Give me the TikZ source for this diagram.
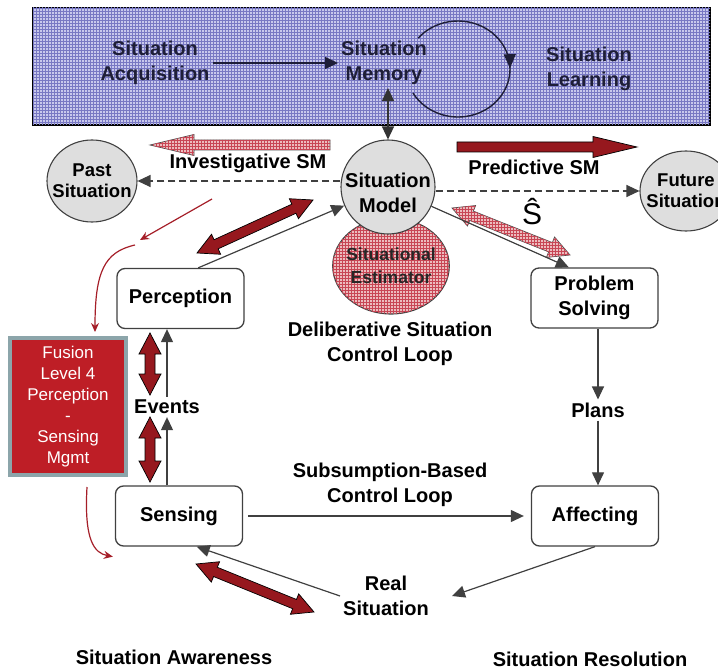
\documentclass[tikz,border=0pt]{standalone}
\usepackage{fontspec}
\setmainfont{Liberation Sans}
\usetikzlibrary{arrows.meta,calc,patterns,decorations.markings,shapes.geometric}

\definecolor{boxblue}{RGB}{200,200,236}
\definecolor{gridblue}{RGB}{120,120,195}
\definecolor{navy}{RGB}{30,30,55}
\definecolor{dkred}{RGB}{150,24,30}
\definecolor{pinkbase}{RGB}{236,188,190}
\definecolor{gridred}{RGB}{200,70,85}
\definecolor{ballgray}{RGB}{222,222,222}
\definecolor{fusred}{RGB}{190,30,38}
\definecolor{fusedge}{RGB}{140,165,170}
\definecolor{thinred}{RGB}{165,30,40}

\newcommand{\lblfont}{\fontsize{20}{25}\selectfont\bfseries}

% block arrow with one head, from #1 to #2
\newcommand{\onearrow}[3]{%
  \coordinate (hb) at ($(#2)!44pt!(#1)$);
  \draw[#3] ($(#1)!5pt!90:(#2)$) -- ($(hb)!5pt!-90:(#1)$) -- ($(hb)!10.5pt!-90:(#1)$)
    -- (#2) -- ($(hb)!10.5pt!90:(#1)$) -- ($(hb)!5pt!90:(#1)$) -- ($(#1)!5pt!-90:(#2)$) -- cycle;}
% block arrow with two heads
\newcommand{\twoarrow}[3]{%
  \coordinate (ha) at ($(#1)!21pt!(#2)$);
  \coordinate (hb) at ($(#2)!21pt!(#1)$);
  \draw[#3] (#1) -- ($(ha)!11pt!90:(#2)$) -- ($(ha)!5pt!90:(#2)$) -- ($(hb)!5pt!-90:(#1)$)
    -- ($(hb)!11pt!-90:(#1)$) -- (#2) -- ($(hb)!11pt!90:(#1)$) -- ($(hb)!5pt!90:(#1)$)
    -- ($(ha)!5pt!-90:(#2)$) -- ($(ha)!11pt!-90:(#2)$) -- cycle;}

\begin{document}
\begin{tikzpicture}[x=1pt, y=-1pt, >={Triangle[length=13pt,width=12pt]},
  procbox/.style={draw=black!75, line width=1.3pt, rounded corners=8pt, fill=white,
    minimum width=127pt, minimum height=60pt, font=\lblfont, align=center, inner sep=2pt},
  txt/.style={font=\lblfont, align=center, inner sep=3pt},
  ball/.style={draw=black!75, line width=1.1pt, fill=ballgray, align=center},
  conn/.style={draw=black!75, line width=1.2pt, ->},
  redpath/.style={draw=thinred, line width=1.2pt, -{Stealth[length=9pt,width=8pt]}},
  solidred/.style={draw=black, line width=0.7pt, fill=dkred},
  hatchred/.style={draw=black!70, line width=0.7pt, fill=pinkbase,
    postaction={pattern=grid, pattern color=gridred}}]
\useasboundingbox (0,0) rectangle (718,671);

% memory band
\draw[line width=1.5pt, fill=boxblue, postaction={pattern=grid, pattern color=gridblue}]
  (33,8) rectangle (710,125);
\node[txt, text=navy] (acq) at (155,63) {Situation\\Acquisition};
\node[txt, text=navy] (mem) at (384,63) {Situation\\Memory};
\node[txt, text=navy] (learn) at (589,69) {Situation\\Learning};
\draw[navy, line width=1.5pt, ->] (acq) -- (mem);
\draw[navy, line width=1.4pt, postaction={decorate},
  decoration={markings, mark=at position 0.48 with {\arrow{Triangle[length=14pt,width=12pt]}}}]
  (458,69) ++(-140:52 and 48) arc[start angle=-140, end angle=150, x radius=52, y radius=48];

% block arrows
\coordinate (invA) at (330,145); \coordinate (invB) at (150,145);
\coordinate (predA) at (457,147); \coordinate (predB) at (637,147);
\coordinate (pmA) at (197,253); \coordinate (pmB) at (313,200);
\coordinate (msA) at (452,208); \coordinate (msB) at (570,255);
\coordinate (peA) at (150,333); \coordinate (peB) at (150,395);
\coordinate (esA) at (150,417); \coordinate (esB) at (150,482);
\coordinate (srA) at (196,564); \coordinate (srB) at (314,612);
\onearrow{invA}{invB}{hatchred}
\onearrow{predA}{predB}{solidred}
\twoarrow{pmA}{pmB}{solidred}
\twoarrow{msA}{msB}{hatchred}
\twoarrow{peA}{peB}{solidred}
\twoarrow{esA}{esB}{solidred}
\twoarrow{srA}{srB}{solidred}

% situation nodes
\node[ellipse, hatchred, draw=black!75, line width=1.1pt, minimum width=116pt, minimum height=96pt,
  inner xsep=-3.5pt, inner ysep=0pt, align=center, text=black!85,
  font=\fontsize{17.5}{23}\selectfont\bfseries] (est) at (391,266) {Situational\\Estimator};
\node[ball, circle, minimum size=94pt, inner xsep=-3pt, inner ysep=0pt, font=\lblfont]
  (model) at (388,187)
  {\raisebox{-8pt}[\height][\depth]{\begin{tabular}{@{}c@{}}Situation\\Model\end{tabular}}};
\node[ball, ellipse, minimum width=90pt, minimum height=82pt, inner xsep=-9pt, inner ysep=0pt,
  font=\fontsize{18.5}{21}\selectfont\bfseries] (past) at (92,181) {Past\\Situation};
\node[ball, ellipse, minimum width=92pt, minimum height=80pt, inner xsep=-9pt, inner ysep=0pt,
  font=\fontsize{18.5}{21}\selectfont\bfseries] (future) at (686,191) {Future\\Situation};

\node[procbox] (perc) at (180.5,298.5) {Perception};
\node[procbox] (prob) at (594.5,298) {Problem\\Solving};
\node[procbox] (sens) at (179,516) {Sensing};
\node[procbox] (aff) at (595,516) {Affecting};

\node[txt] (events) at (167,407) {Events};
\node[txt] (plans) at (598,410) {Plans};
\node[txt] (real) at (386,596) {Real\\Situation};
\node[txt] (delib) at (390,344) {Deliberative Situation\\Control Loop};
\node[txt] (subsum) at (390,485) {Subsumption-Based\\Control Loop};
\node[txt] (aware) at (174,657) {Situation Awareness};
\node[txt] (resol) at (590,659) {Situation Resolution};
\node[txt] (invlbl) at (248,163) {Investigative SM};
\node[txt] (predlbl) at (534,167) {Predictive SM};
\node[font=\fontsize{30}{30}\selectfont] (shat) at (532,212) {Ŝ};

\node[draw=fusedge, line width=4pt, fill=fusred, text=white, align=center,
  font=\fontsize{17}{21}\selectfont, minimum width=116pt, minimum height=137pt]
  (fusion) at (68,406.5) {Fusion\\Level 4\\Perception\\-\\Sensing\\Mgmt};

% connectors
\draw[<->, line width=1.4pt, draw=black!80] (model.north) -- (model.north |- mem.south);
\draw[conn, dash pattern=on 7pt off 4pt] (model.west |- past) -- (past.east);
\draw[conn, dash pattern=on 7pt off 4pt] (model.east |- future) -- (future.west);
\draw[conn] (perc.60) -- (model);
\draw[conn] (model) -- (prob.130);
\draw[conn] (prob.south -| plans.north) -- (plans.north);
\draw[conn] (plans.south) -- (plans.south |- aff.north);
\draw[conn, shorten <=5pt, shorten >=7pt] (sens.east) -- (aff.west);
\draw[conn] (aff.south) -- ([xshift=20pt]real.east);
\draw[conn] (real.west) -- (sens.-60);
\draw[conn] (sens.north -| events.south) -- (events.south);
\draw[conn] (events.north) -- (events.north |- perc.south);

% fusion feedback
\coordinate (rdA) at (212,199); \coordinate (rdB) at (140,240);
\coordinate (rdC) at (135,245);
\draw[redpath] (rdA) -- (rdB);
\draw[redpath, shorten >=4pt] (rdC) .. controls (104,252) and (95,272) .. ([xshift=27pt]fusion.north);
\draw[redpath] ([xshift=19pt,yshift=-10pt]fusion.south) .. controls (84,540) and (94,553)
  .. ([xshift=-2pt,yshift=-10pt]sens.south west);
\end{tikzpicture}
\end{document}
